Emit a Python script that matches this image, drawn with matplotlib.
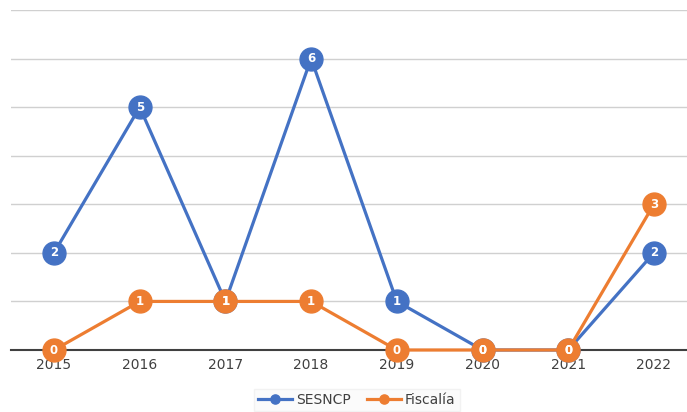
import numpy as np
import matplotlib.pyplot as plt

years = ['2015', '2016', '2017', '2018', '2019', '2020', '2021', '2022']
sesncp = [2, 5, 1, 6, 1, 0, 0, 2]
fiscalia = [0, 1, 1, 1, 0, 0, 0, 3]

blue = '#4472C4'
orange = '#ED7D31'

fig = plt.figure(figsize=(6.87, 4.12), dpi=100)
ax = fig.add_axes([11 / 687, (412 - 350) / 412, 1 - 11 / 687, 340 / 412])

x = np.arange(len(years))
for vals, color, name in [(sesncp, blue, 'SESNCP'), (fiscalia, orange, 'Fiscalía')]:
    ax.plot(x, vals, color=color, lw=2.3, marker='o', ms=16.5, label=name,
            clip_on=False, zorder=3)
    for xi, v in zip(x, vals):
        ax.text(xi, v, str(v), color='white', fontsize=8.5, fontweight='bold',
                ha='center', va='center', zorder=4)

ax.set_xlim(-0.502, 7.386)
ax.set_ylim(0, 7)
ax.set_yticks(range(8))
ax.set_yticklabels([])
ax.tick_params(axis='y', length=0)
ax.tick_params(axis='x', length=0, labelsize=10, pad=6, colors='#404040')
ax.set_xticks(x)
ax.set_xticklabels(years)
ax.grid(axis='y', color='#d0d0d0', lw=1)
ax.set_axisbelow(True)
for s in ['top', 'right', 'left']:
    ax.spines[s].set_visible(False)
ax.spines['bottom'].set_color('#404040')
ax.spines['bottom'].set_linewidth(1.5)

leg = fig.legend(loc='center', bbox_to_anchor=(357 / 687, 1 - 400 / 412), ncol=2,
                 fontsize=10, frameon=True, markerscale=0.4, handlelength=2.4,
                 handletextpad=0.3, columnspacing=1.2, borderpad=0.3, fancybox=False)
leg.get_frame().set_edgecolor('#f0f0f0')
leg.get_frame().set_facecolor('#fafafa')
for t in leg.get_texts():
    t.set_color('#404040')

fig.savefig('out.png', dpi=100)
